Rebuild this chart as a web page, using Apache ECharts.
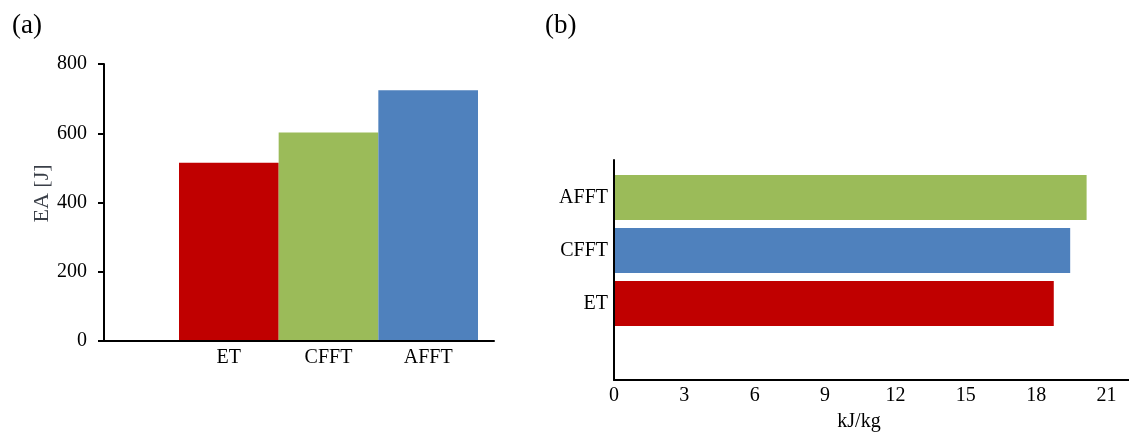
<!DOCTYPE html>
<html>
<head>
<meta charset="utf-8">
<script src="https://cdn.jsdelivr.net/npm/echarts@6/dist/echarts.min.js"></script>
<style>
html,body{margin:0;padding:0;background:#fff;}
#chart{width:1129px;height:432px;}
</style>
</head>
<body>
<div id="chart"></div>
<script>
// Panel (a): energy absorption
const catsA = ['ET', 'CFFT', 'AFFT'];
const eaJ = [515, 602, 724];
const colorsA = ['#C00000', '#9BBB59', '#4F81BD'];
const ticksA = [0, 200, 400, 600, 800];

// Panel (b): specific energy absorption (bottom to top)
const catsB = ['ET', 'CFFT', 'AFFT'];
const seaKJkg = [18.75, 19.45, 20.15];
const colorsB = ['#C00000', '#4F81BD', '#9BBB59'];
const ticksB = [0, 3, 6, 9, 12, 15, 18, 21];

const FONT = "'Liberation Serif', 'Times New Roman', serif";
const axisLineStyle = { color: '#000', width: 2 };
const lbl = { fontFamily: FONT, fontSize: 20, color: '#000' };

const chart = echarts.init(document.getElementById('chart'));
chart.setOption({
  animation: false,
  backgroundColor: '#fff',
  title: [
    { text: '(a)', left: 7, top: 7, textStyle: { fontFamily: FONT, fontSize: 27, fontWeight: 'normal', color: '#000' } },
    { text: '(b)', left: 540, top: 7, textStyle: { fontFamily: FONT, fontSize: 27, fontWeight: 'normal', color: '#000' } }
  ],
  grid: [
    { left: 104, top: 64, width: 390, height: 277, outerBoundsMode: 'none' },
    { left: 179, top: 64, width: 299, height: 277, outerBoundsMode: 'none' },
    { left: 614, top: 160, width: 516, height: 220, outerBoundsMode: 'none' },
    { left: 614, top: 171, width: 516, height: 212, outerBoundsMode: 'none' }
  ],
  xAxis: [
    { gridIndex: 0, type: 'value', min: 0, max: 1, z: 5,
      axisLine: { show: true, lineStyle: axisLineStyle },
      axisTick: { show: false }, axisLabel: { show: false }, splitLine: { show: false } },
    { gridIndex: 1, type: 'category', data: catsA,
      axisLine: { show: false }, axisTick: { show: false }, splitLine: { show: false },
      axisLabel: Object.assign({ margin: 7 }, lbl) },
    { gridIndex: 2, type: 'value', min: 0, max: 22, interval: 3,
      axisLine: { show: true, lineStyle: axisLineStyle },
      axisTick: { show: false }, splitLine: { show: false },
      axisLabel: Object.assign({ margin: 6, formatter: v => ticksB.indexOf(v) >= 0 ? String(v) : '' }, lbl),
      name: 'kJ/kg', nameLocation: 'middle', nameGap: 32,
      nameTextStyle: Object.assign({ padding: [0, 26, 0, 0] }, lbl) },
    { gridIndex: 3, type: 'value', min: 0, max: 22, show: false }
  ],
  yAxis: [
    { gridIndex: 0, type: 'value', min: ticksA[0], max: ticksA[ticksA.length - 1], interval: 200, z: 5,
      axisLine: { show: true, lineStyle: axisLineStyle },
      axisTick: { show: true, length: 6, lineStyle: axisLineStyle },
      splitLine: { show: false },
      axisLabel: Object.assign({ margin: 17 }, lbl),
      name: 'EA [J]', nameLocation: 'middle', nameRotate: 90, nameGap: 50,
      nameTextStyle: { fontFamily: FONT, fontSize: 22, color: '#3a3f48', padding: [0, 0, 0, 18] } },
    { gridIndex: 1, type: 'value', min: 0, max: 800, show: false },
    { gridIndex: 2, type: 'value', min: 0, max: 1, z: 5,
      axisLine: { show: true, lineStyle: axisLineStyle },
      axisTick: { show: false }, axisLabel: { show: false }, splitLine: { show: false } },
    { gridIndex: 3, type: 'category', data: [''].concat(catsB),
      axisLine: { show: false }, axisTick: { show: false }, splitLine: { show: false },
      axisLabel: Object.assign({ margin: 6 }, lbl) }
  ],
  series: [
    { type: 'bar', xAxisIndex: 1, yAxisIndex: 1, barCategoryGap: '0%',
      data: eaJ.map((v, i) => ({ value: v, itemStyle: { color: colorsA[i] } })) },
    { type: 'bar', xAxisIndex: 3, yAxisIndex: 3, barCategoryGap: '15%',
      data: ['-'].concat(seaKJkg.map((v, i) => ({ value: v, itemStyle: { color: colorsB[i] } }))) }
  ]
});
</script>
</body>
</html>
